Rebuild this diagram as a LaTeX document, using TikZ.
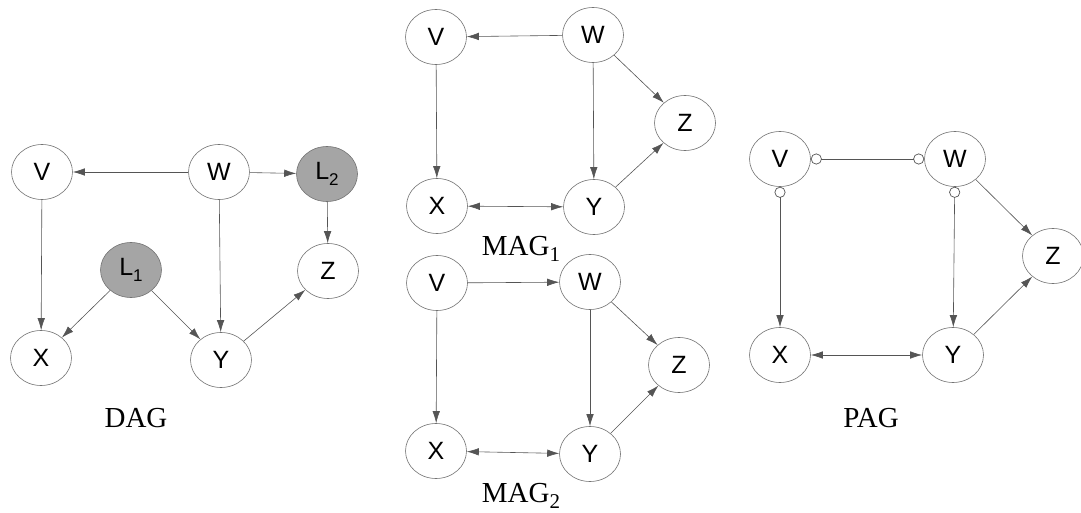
\documentclass[tikz,border=0pt]{standalone}
\usepackage{fontspec}
\setmainfont{Liberation Serif}
\newfontfamily\nodefont{Liberation Sans}
\usetikzlibrary{shapes.geometric,arrows.meta}
\definecolor{edgegray}{RGB}{85,85,85}
\definecolor{rimgray}{RGB}{115,115,115}
\definecolor{latentgray}{RGB}{165,165,165}
\tikzset{
  var/.style={ellipse, draw=rimgray, line width=0.6pt, fill=white,
    minimum width=61pt, minimum height=55pt, inner sep=0pt,
    font=\nodefont\fontsize{25}{25}\selectfont},
  latent/.style={var, fill=latentgray},
  tip/.tip={Latex[length=12pt,width=7.5pt]},
  ocirc/.tip={Circle[open,length=11pt,width=11pt,line width=0.7pt]},
  edge/.style={draw=edgegray, line width=0.6pt, -tip},
  biedge/.style={draw=edgegray, line width=0.6pt, tip-tip},
  ooedge/.style={draw=edgegray, line width=0.6pt, ocirc-ocirc},
  oaedge/.style={draw=edgegray, line width=0.6pt, ocirc-tip},
  title/.style={anchor=base, inner sep=0pt, font=\fontsize{29}{29}\selectfont}
}
\newcommand{\sub}[1]{\raisebox{-6pt}{\fontsize{17}{17}\selectfont #1}}
\newcommand{\tsub}[1]{\raisebox{-6pt}{\fontsize{21}{21}\selectfont #1}}
\begin{document}
\begin{tikzpicture}[x=1pt,y=-1pt]
\useasboundingbox[fill=white] (0,0) rectangle (1081,513);

% ---- DAG ----
\node[var]    (dV)  at (42,172)  {V};
\node[var]    (dW)  at (219,172) {W};
\node[latent] (dL2) at (327,174) {L\sub{2}};
\node[latent] (dL1) at (131,270) {L\sub{1}};
\node[var]    (dZ)  at (328,271) {Z};
\node[var]    (dX)  at (41,358)  {X};
\node[var]    (dY)  at (221,360) {Y};
\node[title]  (dT)  at (136,427) {DAG};
\draw[edge] (dW) -- (dV);
\draw[edge] (dW) -- (dL2);
\draw[edge] (dV) -- (dX);
\draw[edge] (dW) -- (dY);
\draw[edge] (dL2) -- (dZ);
\draw[edge] (dL1) -- (dX);
\draw[edge] (dL1) -- (dY);
\draw[edge] (dY) -- (dZ);

% ---- MAG 1 ----
\node[var] (aV) at (436,37)  {V};
\node[var] (aW) at (593,35)  {W};
\node[var] (aZ) at (685,123) {Z};
\node[var] (aX) at (437,206) {X};
\node[var] (aY) at (594,207) {Y};
\node[title] (aT) at (521,255) {MAG\tsub{1}};
\draw[edge] (aW) -- (aV);
\draw[edge] (aV) -- (aX);
\draw[edge] (aW) -- (aY);
\draw[edge] (aW) -- (aZ);
\draw[edge] (aY) -- (aZ);
\draw[biedge] (aX) -- (aY);

% ---- MAG 2 ----
\node[var] (bV) at (437,283) {V};
\node[var] (bW) at (590,282) {W};
\node[var] (bZ) at (679,365) {Z};
\node[var] (bX) at (436,451) {X};
\node[var] (bY) at (590,454) {Y};
\node[title] (bT) at (521,502) {MAG\tsub{2}};
\draw[edge] (bV) -- (bW);
\draw[edge] (bV) -- (bX);
\draw[edge] (bW) -- (bY);
\draw[edge] (bW) -- (bZ);
\draw[edge] (bY) -- (bZ);
\draw[biedge] (bX) -- (bY);

% ---- PAG ----
\node[var] (pV) at (780,159)  {V};
\node[var] (pW) at (955,159)  {W};
\node[var] (pZ) at (1053,256) {Z};
\node[var] (pX) at (780,355)  {X};
\node[var] (pY) at (953,355)  {Y};
\node[title] (pT) at (871,427) {PAG};
\draw[ooedge] (pV) -- (pW);
\draw[oaedge] (pV) -- (pX);
\draw[oaedge] (pW) -- (pY);
\draw[edge] (pW) -- (pZ);
\draw[edge] (pY) -- (pZ);
\draw[biedge] (pX) -- (pY);
\end{tikzpicture}
\end{document}
